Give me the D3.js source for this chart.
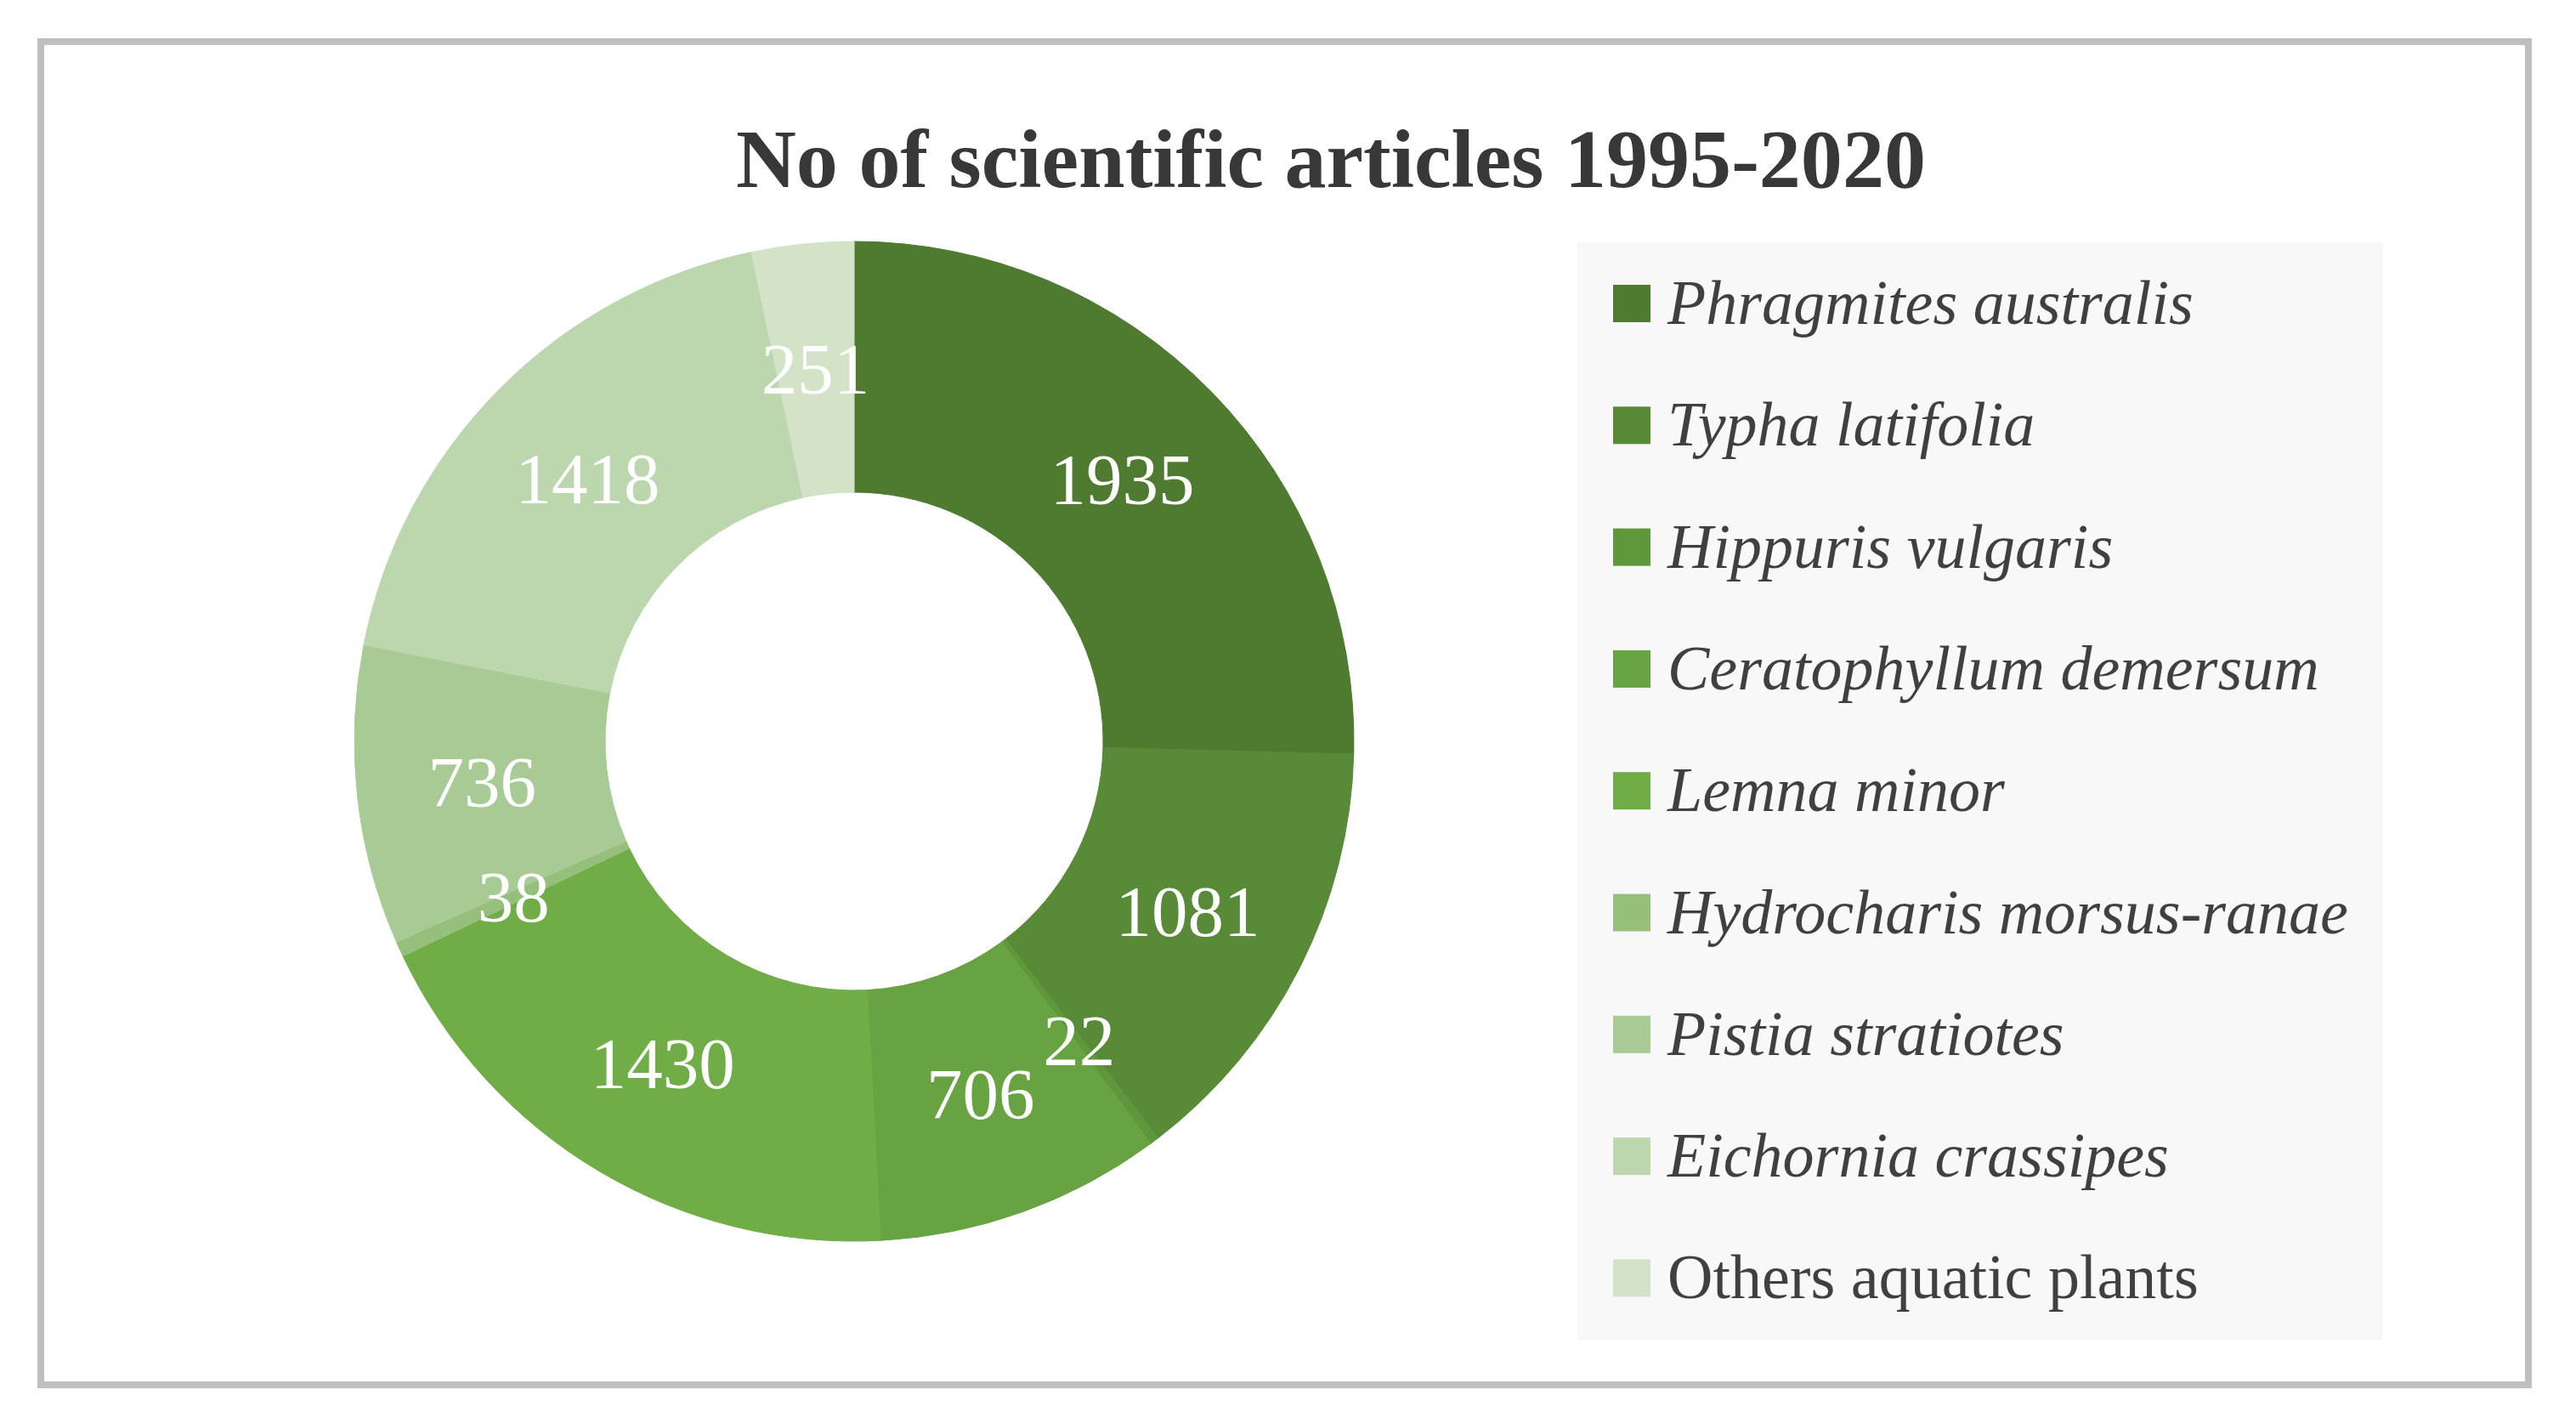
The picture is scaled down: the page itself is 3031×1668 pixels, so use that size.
<!DOCTYPE html>
<html>
<head>
<meta charset="utf-8">
<title>No of scientific articles 1995-2020</title>
<script src="https://cdn.jsdelivr.net/npm/d3@7"></script>
<style>
    html, body { margin: 0; padding: 0; background: #ffffff; }
    #plot { width: 3031px; height: 1668px; }
</style>
</head>
<body>
<div id="plot"></div>
<script>
// species names, article counts, slice colours (Excel green monochrome)
const species = [
    "Phragmites australis",
    "Typha latifolia",
    "Hippuris vulgaris",
    "Ceratophyllum demersum",
    "Lemna minor",
    "Hydrocharis morsus-ranae",
    "Pistia stratiotes",
    "Eichornia crassipes",
    "Others aquatic plants"
];
const articles = [1935, 1081, 22, 706, 1430, 38, 736, 1418, 251];
const italicName = [true, true, true, true, true, true, true, true, false];
const sliceColors = ["#4f7b31", "#588a37", "#5f973c", "#67a341", "#70ad47",
                     "#96bf7b", "#a8ca95", "#bcd6ad", "#d2e3c8"];

const width = 3031, height = 1668;
const serif = "'Liberation Serif', 'DejaVu Serif', serif";

const svg = d3.select("#plot").append("svg")
    .attr("width", width)
    .attr("height", height);

// outer frame
svg.append("rect")
    .attr("x", 48).attr("y", 49)
    .attr("width", 2927).attr("height", 1580)
    .attr("fill", "#ffffff")
    .attr("stroke", "#bfbfbf")
    .attr("stroke-width", 8);

// title
svg.append("text")
    .attr("x", 1566).attr("y", 220)
    .attr("text-anchor", "middle")
    .attr("font-family", serif)
    .attr("font-weight", "bold")
    .attr("font-size", 98)
    .attr("fill", "#383838")
    .attr("textLength", 1400)
    .attr("lengthAdjust", "spacingAndGlyphs")
    .text("No of scientific articles 1995-2020");

// donut
const cx = 1005, cy = 872;
const outerR = 588, innerR = 293;

const data = species.map((name, i) => ({ name: name, value: articles[i], color: sliceColors[i] }));

const pie = d3.pie()
    .sort(null)
    .value(d => d.value);

const arc = d3.arc()
    .innerRadius(innerR)
    .outerRadius(outerR);

const donut = svg.append("g")
    .attr("transform", `translate(${cx},${cy})`);

const arcs = pie(data);

donut.selectAll(".slice")
    .data(arcs)
    .enter()
    .append("path")
    .attr("class", "slice")
    .attr("d", arc)
    .attr("fill", d => d.data.color)
    .attr("stroke", d => d.data.color)
    .attr("stroke-width", 1);

donut.selectAll(".value-label")
    .data(arcs)
    .enter()
    .append("text")
    .attr("class", "value-label")
    .attr("transform", d => `translate(${arc.centroid(d)})`)
    .attr("text-anchor", "middle")
    .attr("dominant-baseline", "central")
    .attr("font-family", serif)
    .attr("font-size", 85)
    .attr("fill", "#ffffff")
    .text(d => d.data.value);

// legend
const legendTop = 381, legendStep = 143.3;

svg.append("rect")
    .attr("x", 1856).attr("y", 285)
    .attr("width", 947).attr("height", 1291)
    .attr("fill", "#f8f8f8");

const legendY = d3.scaleLinear()
    .domain([0, species.length - 1])
    .range([legendTop, legendTop + legendStep * (species.length - 1)]);

const legend = svg.selectAll(".legend-item")
    .data(data)
    .enter()
    .append("g")
    .attr("class", "legend-item")
    .attr("transform", (d, i) => `translate(0,${legendY(i)})`);

legend.append("rect")
    .attr("x", 1898).attr("y", -46)
    .attr("width", 44).attr("height", 44)
    .attr("fill", d => d.color);

legend.append("text")
    .attr("x", 1962).attr("y", 0)
    .attr("font-family", serif)
    .attr("font-style", (d, i) => italicName[i] ? "italic" : "normal")
    .attr("font-size", 74)
    .attr("fill", "#404040")
    .text(d => d.name);
</script>
</body>
</html>
